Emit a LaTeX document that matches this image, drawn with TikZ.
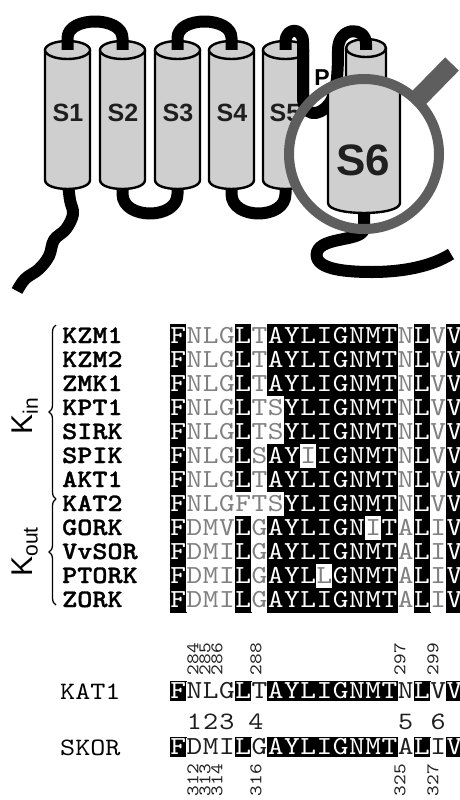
\documentclass[tikz,border=0pt]{standalone}
\usepackage{fontspec}
\setsansfont{Liberation Sans}
\newfontfamily\seqfont{lmmono10-regular.otf}[FakeStretch=1.15, BoldFont=lmmonolt10-bold.otf, BoldFeatures={FakeBold=1.2}]
\usetikzlibrary{calc,decorations.pathreplacing}

\definecolor{cylfill}{gray}{0.81}
\definecolor{lensgray}{gray}{0.37}
\definecolor{restgray}{gray}{0.5}
\definecolor{inkdark}{gray}{0.12}

% a membrane helix drawn as a cylinder: centre x, half width, top y, bottom y, end radius
\newcommand\helixcyl[5]{%
  \path[cylbody] ({#1-#2},#3) -- ({#1-#2},#4)
     .. controls ({#1-#2},{#4+1.33*#5}) and ({#1+#2},{#4+1.33*#5}) .. ({#1+#2},#4)
     -- ({#1+#2},#3) -- cycle;
  \path[cylbody] (#1,#3) ellipse[x radius=#2, y radius=#5];
}

% one row of residues: node prefix, centre y, cell height, colour of unshaded letters, residue/shade list
\newcommand\resrow[5]{%
  \foreach \res/\on [count=\col from 0] in {#5} {
    \ifnum\on=1 \def\cf{black}\def\ct{white}\def\cd{black}\else\def\cf{white}\def\ct{#4}\def\cd{none}\fi
    \node[residue, minimum height=#3, fill=\cf, draw=\cd, text=\ct] (#1-\col) at ({178.125+16.25*\col},#2) {\res};
  }%
}

\begin{document}
\begin{tikzpicture}[x=1pt, y=-1pt,
  chain/.style={line width=12pt, draw=black, line cap=butt, line join=round},
  cylbody/.style={fill=cylfill, draw=black, line width=2.4pt, line join=round},
  helixlabel/.style={font=\sffamily\bfseries\fontsize{25}{25}\selectfont, text=inkdark, inner sep=0pt},
  residue/.style={inner sep=0pt, minimum width=16.25pt, text height=15.9pt, text depth=0pt,
                  font=\seqfont\fontsize{26}{26}\selectfont, line width=0.5pt},
  protname/.style={anchor=base west, inner sep=0pt, font=\seqfont\bfseries\fontsize{25}{25}\selectfont},
  refname/.style={anchor=base west, inner sep=0pt, font=\seqfont\fontsize{25}{25}\selectfont},
  posnum/.style={rotate=90, inner sep=0pt, text=inkdark, font=\seqfont\fontsize{17.7}{17.7}\selectfont},
  sitenum/.style={inner sep=0pt, text=inkdark, font=\seqfont\fontsize{25}{25}\selectfont},
  groupbrace/.style={decorate, decoration={brace, amplitude=7pt}, line width=1.3pt},
  grouplabel/.style={rotate=90, inner sep=0pt, font=\sffamily\fontsize{30}{30}\selectfont},
  lensring/.style={draw=lensgray, line width=10pt},
]
\fill[white] (0,0) rectangle (460,800);
\useasboundingbox (0,0) rectangle (460,800);

% ---------- channel topology ----------
\foreach \n/\x in {s1/67.5, s2/122.5, s3/177.5, s4/231.5, s5/285.5, s6/366} {
  \coordinate (\n-t) at (\x,50);
  \coordinate (\n-b) at (\x,180);
}
\coordinate (lens) at (364,154);
\coordinate (handle-a) at (418.5,98.2);
\coordinate (handle-b) at (452,64);

% intracellular loops and N terminus (behind the helices)
\draw[chain] (s2-b) -- ++(0,14) .. controls +(0,26) and +(0,26) .. ($(s3-b)+(0,14)$) -- (s3-b);
\draw[chain] (s4-b) -- ++(0,14) .. controls +(0,26) and +(0,26) .. ($(s5-b)+(0,14)$) -- (s5-b);
\draw[chain] plot[smooth, tension=0.6] coordinates
  {(s1-b) (70,200) (73,214) (66,229) (54,240) (49,256) (39,269) (25,279) (17,291)};

% helices S1-S5 and the distant S6
\helixcyl{67.5}{22.5}{50}{180}{9}
\helixcyl{122.5}{22.5}{50}{180}{9}
\helixcyl{177.5}{22.5}{50}{180}{9}
\helixcyl{231.5}{22.5}{50}{180}{9}
\helixcyl{285.5}{22.5}{50}{180}{9}
\helixcyl{366}{20}{48}{180}{9}

% extracellular loops
\draw[chain] (s1-t) -- ++(0,-12) .. controls +(0,-22) and +(0,-22) .. ($(s2-t)+(0,-12)$) -- (s2-t);
\draw[chain] (s3-t) -- ++(0,-12) .. controls +(0,-22) and +(0,-22) .. ($(s4-t)+(0,-12)$) -- (s4-t);

\node[helixlabel] (lab1) at (68,113) {S1};
\node[helixlabel] (lab2) at (123,113) {S2};
\node[helixlabel] (lab3) at (178,113) {S3};
\node[helixlabel] (lab4) at (232,113) {S4};
\node[helixlabel] (lab5) at (285,113) {S5};

% magnifying glass over S6
\fill[white] (lens) circle[radius=75];
\draw[chain] (s5-t) -- (285.5,42) .. controls (285.5,27) and (303,27) .. (303,42)
  -- (303,97) .. controls (303,116) and (318,118) .. (329,104)
  .. controls (336,95) and (338,80) .. (338,50)
  .. controls (338,26) and (366,26) .. ($(s6-t)+(0,-6)$) -- (s6-t);
\draw[chain] (364,200) -- (364,228) .. controls (364,242) and (322,236) .. (317,252)
  .. controls (313,268) and (340,272) .. (372,272) .. controls (404,272) and (432,266) .. (451,254);
\begin{scope}
  \clip (lens) circle[radius=71];
  \helixcyl{364}{36}{60}{203}{10}
\end{scope}
\node[font=\sffamily\bfseries\fontsize{23}{23}\selectfont, inner sep=0pt] (pore) at (322,78) {P};
\draw[lensring] (lens) circle[radius=75];
\draw[draw=lensgray, line width=19pt] (handle-a) -- (handle-b);
\node[font=\sffamily\bfseries\fontsize{44}{44}\selectfont, text=inkdark, inner sep=0pt] (lab6) at (363,160) {S6};

% ---------- S6 alignment ----------
\node[grouplabel] (kin) at (25,416) {K\raisebox{-5pt}{\fontsize{21}{21}\selectfont in}};
\node[grouplabel] (kout) at (25,552) {K\raisebox{-5pt}{\fontsize{21}{21}\selectfont out}};
\coordinate (br-top) at (56,325);
\coordinate (br-mid) at (56,499);
\coordinate (br-bot) at (56,605);
\draw[groupbrace] (br-mid) -- (br-top);
\draw[groupbrace] (br-bot) -- (br-mid);

\node[protname] (kzm1) at (62,343) {KZM1};
\node[protname] (kzm2) at (62,367) {KZM2};
\node[protname] (zmk1) at (62,391) {ZMK1};
\node[protname] (kpt1) at (62,415) {KPT1};
\node[protname] (sirk) at (62,439) {SIRK};
\node[protname] (spik) at (62,463) {SPIK};
\node[protname] (akt1) at (62,487) {AKT1};
\node[protname] (kat2) at (62,511) {KAT2};
\node[protname] (gork) at (62,535) {GORK};
\node[protname] (vvsor) at (62,559) {VvSOR};
\node[protname] (ptork) at (62,583) {PTORK};
\node[protname] (zork) at (62,607) {ZORK};

\resrow{r1}{336}{24pt}{restgray}{F/1,N/0,L/0,G/0,L/1,T/0,A/1,Y/1,L/1,I/1,G/1,N/1,M/1,T/1,N/0,L/1,V/0,V/1}
\resrow{r2}{360}{24pt}{restgray}{F/1,N/0,L/0,G/0,L/1,T/0,A/1,Y/1,L/1,I/1,G/1,N/1,M/1,T/1,N/0,L/1,V/0,V/1}
\resrow{r3}{384}{24pt}{restgray}{F/1,N/0,L/0,G/0,L/1,T/0,A/1,Y/1,L/1,I/1,G/1,N/1,M/1,T/1,N/0,L/1,V/0,V/1}
\resrow{r4}{408}{24pt}{restgray}{F/1,N/0,L/0,G/0,L/1,T/0,S/0,Y/1,L/1,I/1,G/1,N/1,M/1,T/1,N/0,L/1,V/0,V/1}
\resrow{r5}{432}{24pt}{restgray}{F/1,N/0,L/0,G/0,L/1,T/0,S/0,Y/1,L/1,I/1,G/1,N/1,M/1,T/1,N/0,L/1,V/0,V/1}
\resrow{r6}{456}{24pt}{restgray}{F/1,N/0,L/0,G/0,L/1,S/0,A/1,Y/1,I/0,I/1,G/1,N/1,M/1,T/1,N/0,L/1,V/0,V/1}
\resrow{r7}{480}{24pt}{restgray}{F/1,N/0,L/0,G/0,L/1,T/0,A/1,Y/1,L/1,I/1,G/1,N/1,M/1,T/1,N/0,L/1,V/0,V/1}
\resrow{r8}{504}{24pt}{restgray}{F/1,N/0,L/0,G/0,F/0,T/0,S/0,Y/1,L/1,I/1,G/1,N/1,M/1,T/1,N/0,L/1,V/0,V/1}
\resrow{r9}{528}{24pt}{restgray}{F/1,D/0,M/0,V/0,L/1,G/0,A/1,Y/1,L/1,I/1,G/1,N/1,I/0,T/1,A/0,L/1,I/0,V/1}
\resrow{r10}{552}{24pt}{restgray}{F/1,D/0,M/0,I/0,L/1,G/0,A/1,Y/1,L/1,I/1,G/1,N/1,M/1,T/1,A/0,L/1,I/0,V/1}
\resrow{r11}{576}{24pt}{restgray}{F/1,D/0,M/0,I/0,L/1,G/0,A/1,Y/1,L/1,L/0,G/1,N/1,M/1,T/1,A/0,L/1,I/0,V/1}
\resrow{r12}{600}{24pt}{restgray}{F/1,D/0,M/0,I/0,L/1,G/0,A/1,Y/1,L/1,I/1,G/1,N/1,M/1,T/1,A/0,L/1,I/0,V/1}

% ---------- KAT1 / SKOR comparison ----------
\foreach \p/\x in {284/193, 285/205, 286/217, 288/256, 297/400, 299/433}
  \node[posnum] (kat1-\p) at (\x,659) {\p};
\node[refname] (kat1) at (60,699) {KAT1};
\resrow{kat}{691}{19pt}{inkdark}{F/1,N/0,L/0,G/0,L/1,T/0,A/1,Y/1,L/1,I/1,G/1,N/1,M/1,T/1,N/0,L/1,V/0,V/1}
\foreach \s/\x in {1/194.4, 2/210.6, 3/226.9, 4/256, 5/405.6, 6/438.1}
  \node[sitenum] (site\s) at (\x,722) {\s};
\node[refname] (skor) at (60,755) {SKOR};
\resrow{skor}{747}{19pt}{inkdark}{F/1,D/0,M/0,I/0,L/1,G/0,A/1,Y/1,L/1,I/1,G/1,N/1,M/1,T/1,A/0,L/1,I/0,V/1}
\foreach \p/\x in {312/193, 313/205, 314/217, 316/256, 325/400, 327/433}
  \node[posnum] (skor-\p) at (\x,780) {\p};
\end{tikzpicture}
\end{document}
